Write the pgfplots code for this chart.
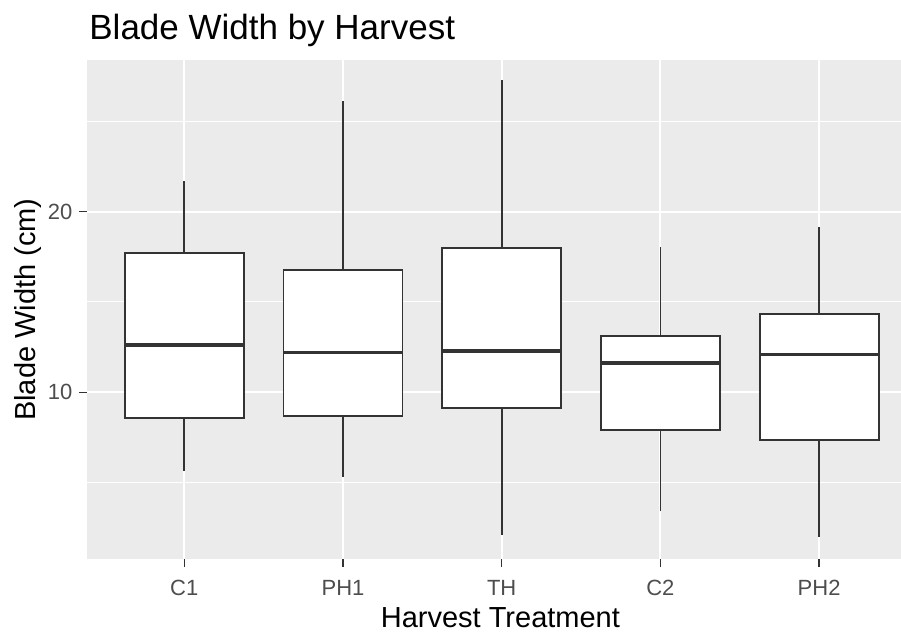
\documentclass[border=0pt]{standalone}
\usepackage{fontspec}
\setmainfont{Liberation Sans}
\usepackage{pgfplots}
\usepgfplotslibrary{statistics}
\pgfplotsset{compat=1.18}

\definecolor{panelbg}{HTML}{EBEBEB}
\definecolor{grey20}{HTML}{333333}
\definecolor{grey30}{HTML}{4D4D4D}

% Shared look of the boxes: vertical, white fill, dark outline, no whisker caps
\pgfplotsset{
  bladebox/.style={
    boxplot prepared={draw direction=y, box extend=0.75, whisker extend=0,
      every median/.style={line width=1.6pt}},
    draw=grey20, fill=white, line width=0.9pt, solid, mark=none
  }
}

\begin{document}
\begin{tikzpicture}[x=1pt,y=1pt]
\useasboundingbox (0,0) rectangle (450.5,317);
\begin{axis}[
  at={(43.35pt,37.35pt)}, anchor=south west,
  scale only axis, width=407.15pt, height=249.65pt,
  xmin=0.385, xmax=5.516, ymin=0.75, ymax=28.40,
  axis background/.style={fill=panelbg},
  axis line style={draw=none},
  xtick={1,2,3,4,5}, xticklabels={C1,PH1,TH,C2,PH2},
  ytick={10,20}, minor ytick={5,15,25},
  grid=both,
  major grid style={white, line width=1pt},
  minor grid style={white, line width=0.5pt},
  tick align=outside, major tick length=3.65pt, minor tick length=0pt,
  tick style={grey20, line width=0.75pt},
  xtick pos=bottom, ytick pos=left,
  /pgf/number format/assume math mode=true,
  ticklabel style={font=\fontsize{11}{13}\selectfont, text=grey30},
  xticklabel style={anchor=north, inner sep=0pt, text height=8pt,
    text depth=0pt, yshift=-6pt},
  clip=false,
]
% C1
\addplot[bladebox, boxplot prepared={draw position=1,
  lower whisker=5.66, lower quartile=8.56, median=12.62,
  upper quartile=17.70, upper whisker=21.72}] coordinates {};
% PH1
\addplot[bladebox, boxplot prepared={draw position=2,
  lower whisker=5.33, lower quartile=8.67, median=12.19,
  upper quartile=16.79, upper whisker=26.15}] coordinates {};
% TH
\addplot[bladebox, boxplot prepared={draw position=3,
  lower whisker=2.10, lower quartile=9.11, median=12.29,
  upper quartile=18.01, upper whisker=27.28}] coordinates {};
% C2
\addplot[bladebox, boxplot prepared={draw position=4,
  lower whisker=3.43, lower quartile=7.91, median=11.62,
  upper quartile=13.13, upper whisker=18.05}] coordinates {};
% PH2
\addplot[bladebox, boxplot prepared={draw position=5,
  lower whisker=2.00, lower quartile=7.36, median=12.08,
  upper quartile=14.35, upper whisker=19.17}] coordinates {};
\end{axis}
\node[anchor=base west, inner sep=0pt, font=\fontsize{17.5}{20}\selectfont] at (44.5,297.5) {Blade Width by Harvest};
\node[anchor=base, inner sep=0pt, font=\fontsize{14.5}{16}\selectfont] at (250.2,3.5) {Harvest Treatment};
\node[anchor=base, rotate=90, inner sep=0pt, font=\fontsize{14.5}{16}\selectfont] at (17.5,162.15) {Blade Width (cm)};
\end{tikzpicture}
\end{document}
